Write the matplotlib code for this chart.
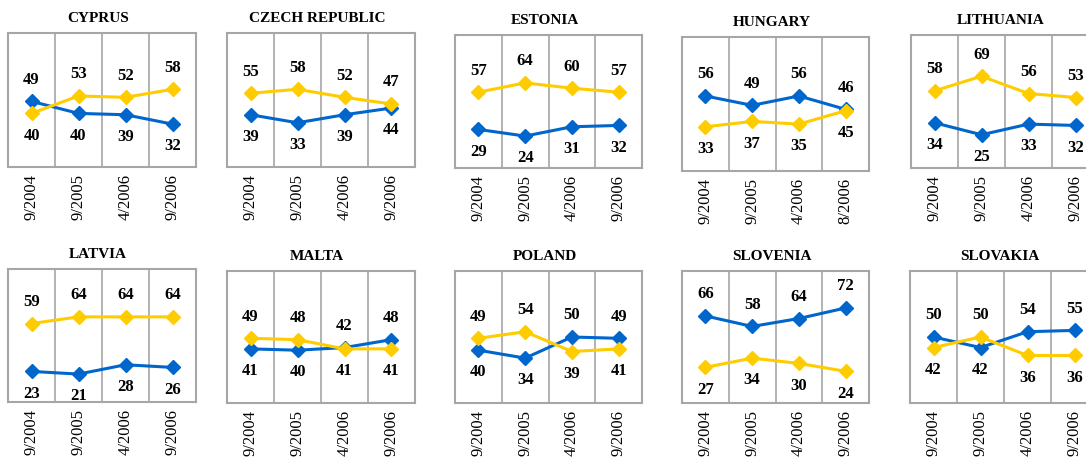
import matplotlib
matplotlib.use("Agg")
import matplotlib.pyplot as plt

countries = ["CYPRUS", "CZECH REPUBLIC", "ESTONIA", "HUNGARY", "LITHUANIA",
             "LATVIA", "MALTA", "POLAND", "SLOVENIA", "SLOVAKIA"]
dates_std = ["9/2004", "9/2005", "4/2006", "9/2006"]
dates_hu = ["9/2004", "9/2005", "4/2006", "8/2006"]
dates = [dates_std, dates_std, dates_std, dates_hu, dates_std,
         dates_std, dates_std, dates_std, dates_std, dates_std]

blue_cy = [49, 40, 39, 32]; yellow_cy = [40, 53, 52, 58]
blue_cz = [39, 33, 39, 44]; yellow_cz = [55, 58, 52, 47]
blue_ee = [29, 24, 31, 32]; yellow_ee = [57, 64, 60, 57]
blue_hu = [56, 49, 56, 46]; yellow_hu = [33, 37, 35, 45]
blue_lt = [34, 25, 33, 32]; yellow_lt = [58, 69, 56, 53]
blue_lv = [23, 21, 28, 26]; yellow_lv = [59, 64, 64, 64]
blue_mt = [41, 40, 42, 48]; yellow_mt = [49, 48, 41, 41]
blue_pl = [40, 34, 50, 49]; yellow_pl = [49, 54, 39, 41]
blue_si = [66, 58, 64, 72]; yellow_si = [27, 34, 30, 24]
blue_sk = [50, 42, 54, 55]; yellow_sk = [42, 50, 36, 36]

blues = [blue_cy, blue_cz, blue_ee, blue_hu, blue_lt,
         blue_lv, blue_mt, blue_pl, blue_si, blue_sk]
yellows = [yellow_cy, yellow_cz, yellow_ee, yellow_hu, yellow_lt,
           yellow_lv, yellow_mt, yellow_pl, yellow_si, yellow_sk]

# axes boxes in pixels: left, top, right, bottom
boxes = [(8, 33, 196, 167), (227, 33, 415, 167), (455, 35, 642, 168),
         (682, 37, 869, 171), (911, 35, 1099, 168),
         (8, 269, 196, 402), (227, 271, 415, 403), (455, 271, 642, 403),
         (682, 271, 869, 403), (910, 271, 1098, 403)]

W, H = 1086, 457
fig = plt.figure(figsize=(W / 100, H / 100), dpi=100)
fig.patch.set_facecolor("white")

BLUE = "#0066CC"
YELLOW = "#FFCC00"
GRAY = "#A6A6A6"
SERIF = "Liberation Serif"

for i, name in enumerate(countries):
    l, t, r, b = boxes[i]
    ax = fig.add_axes([l / W, 1 - b / H, (r - l) / W, (b - t) / H])
    x = list(range(len(dates[i])))
    bl, ye = blues[i], yellows[i]
    ax.plot(x, bl, color=BLUE, lw=2.2, marker="D", ms=7, zorder=3, clip_on=False)
    ax.plot(x, ye, color=YELLOW, lw=2.2, marker="D", ms=7, zorder=4, clip_on=False)
    for xi, bv, yv in zip(x, bl, ye):
        hi, lo = max(bv, yv), min(bv, yv)
        ax.annotate(str(hi), (xi, hi), xytext=(0, 15.5), textcoords="offset points",
                    ha="center", va="center", fontsize=12, fontweight="bold",
                    family=SERIF, annotation_clip=False, zorder=5)
        ax.annotate(str(lo), (xi, lo), xytext=(0, -16), textcoords="offset points",
                    ha="center", va="center", fontsize=12, fontweight="bold",
                    family=SERIF, annotation_clip=False, zorder=5)
    ax.set_xlim(-0.5, len(x) - 0.5)
    ax.set_ylim(0, 100)
    for g in [0.5, 1.5, 2.5]:
        ax.axvline(g, color=GRAY, lw=1.2, zorder=1)
    for sp in ax.spines.values():
        sp.set_color(GRAY)
        sp.set_linewidth(1.5)
    ax.set_yticks([])
    ax.set_xticks(x)
    ax.set_xticklabels(dates[i], rotation=90, fontsize=12, family=SERIF)
    ax.tick_params(axis="x", length=0, pad=5)
    cx = (l + r) / 2 - 4
    fig.text(cx / W, 1 - (t - 14) / H, name, ha="center", va="center",
             fontsize=11, fontweight="bold", family=SERIF)

fig.savefig("out.png", dpi=100, facecolor="white")
